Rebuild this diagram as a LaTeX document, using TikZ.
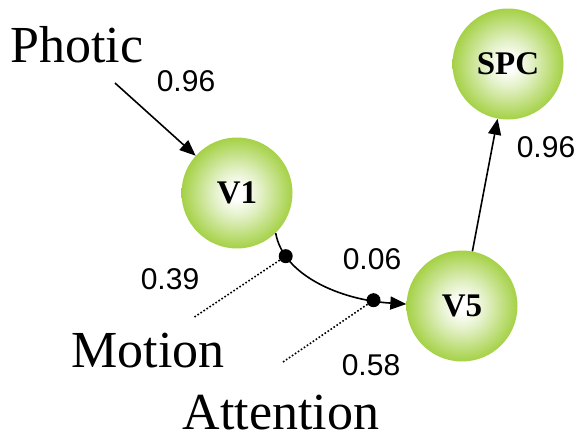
\documentclass[tikz,border=0pt]{standalone}
\usepackage{fontspec}
\setmainfont{Liberation Serif}
\setsansfont{Liberation Sans}
\usetikzlibrary{arrows.meta}
\definecolor{ballgreen}{RGB}{136,194,24}
\definecolor{ballmid}{RGB}{165,209,70}
\definecolor{balllight}{RGB}{225,240,195}
\pgfdeclareradialshading{ball}{\pgfpoint{0bp}{0bp}}{%
  color(0bp)=(white);
  color(3bp)=(white);
  color(11bp)=(balllight);
  color(25bp)=(ballmid);
  color(40bp)=(ballgreen);
  color(50bp)=(ballgreen)}
\tikzset{
  ballnode/.style={circle, minimum size=111pt, inner sep=0pt, shading=ball,
    font=\fontsize{33}{36}\selectfont\bfseries},
  bigtext/.style={inner sep=0pt, font=\fontsize{52}{60}\selectfont},
  numlbl/.style={inner sep=0pt, font=\sffamily\fontsize{30}{34}\selectfont},
  conn/.style={line width=1.6pt, -{Triangle[length=16pt,width=13pt]}},
  dotline/.style={line width=1.6pt, dotted},
  blob/.style={circle, fill=black, minimum size=14pt, inner sep=0pt}
}
\begin{document}
\begin{tikzpicture}[x=1pt, y=-1pt]
\useasboundingbox (0,0) rectangle (582,442);
\node[ballnode] (v1) at (237,193) {V1};
\node[ballnode] (v5) at (462,306) {V5};
\node[ballnode] (spc) at (508,64) {SPC};

\node[bigtext] (photic) at (77,45) {Photic};
\node[bigtext] (motion) at (148,351) {Motion};
\node[bigtext] (attention) at (281,413) {Attention};

\node[numlbl] (l1) at (186,81) {0.96};
\node[numlbl] (l2) at (546,147) {0.96};
\node[numlbl] (l3) at (372,259) {0.06};
\node[numlbl] (l4) at (170,279) {0.39};
\node[numlbl] (l5) at (371,365) {0.58};

\coordinate (ps) at (115,83);
\coordinate (me) at (193,318);
\coordinate (ae) at (283,362);

\draw[conn] (ps) -- (v1);
\draw[conn] (v5) -- (spc);
\draw[conn] (v1.-46) .. controls (283,275) and (340,300) .. (v5.178)
  coordinate[pos=0.2] (d1) coordinate[pos=0.83] (d2);
\draw[dotline] (d1) -- (me);
\draw[dotline] (d2) -- (ae);
\node[blob] (b1) at (d1) {};
\node[blob] (b2) at (d2) {};
\end{tikzpicture}
\end{document}
